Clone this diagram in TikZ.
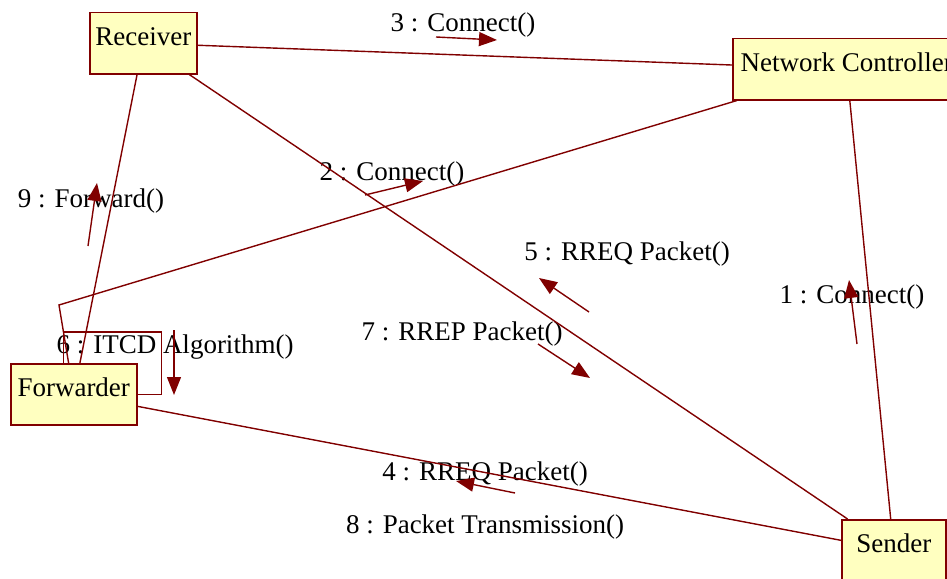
\documentclass[tikz,border=0pt]{standalone}
\usepackage{fontspec}
\setmainfont{Liberation Serif}
\usepackage{xcolor}
\usepackage{tikz}
\usetikzlibrary{arrows.meta,positioning}
\definecolor{linkred}{RGB}{128,0,0}
\definecolor{objfill}{RGB}{255,255,192}
\tikzset{
  object/.style={rectangle,draw=linkred,fill=objfill,line width=1.5pt,
    anchor=north west,inner xsep=0pt,inner ysep=0pt,
    text height=33pt,text depth=28pt,font=\fontsize{27}{32}\selectfont},
  link/.style={linkred,line width=1.4pt},
  message/.style={linkred,line width=1.4pt,-{Triangle[length=18pt,width=14pt]}},
  msglabel/.style={anchor=base,inner sep=0pt,font=\fontsize{27}{32}\selectfont},
  collaboration/.style={x=1pt,y=-1pt}
}
\begin{document}
\begin{tikzpicture}[collaboration]
  \path[use as bounding box,clip] (0,0) rectangle (947,578);

  \node[object,minimum width=107pt] (receiver) at (89,12) {Receiver};
  \node[object,minimum width=228pt] (controller) at (732,38) {Network Controller};
  \node[object,minimum width=126pt] (forwarder) at (10,363) {Forwarder};
  \node[object,minimum width=104pt] (sender) at (841,519) {Sender};

  \node[msglabel] (lbl1) at (852,303) {1 : Connect()};
  \node[msglabel] (lbl2) at (392,180) {2 : Connect()};
  \node[msglabel] (lbl3) at (463,32) {3 : Connect()};
  \node[msglabel] (lbl4) at (485,480) {4 : RREQ Packet()};
  \node[msglabel] (lbl5) at (627,260) {5 : RREQ Packet()};
  \node[msglabel] (lbl6) at (175,353) {6 : ITCD Algorithm()};
  \node[msglabel] (lbl7) at (462,340) {7 : RREP Packet()};
  \node[msglabel] (lbl8) at (485,533) {8 : Packet Transmission()};
  \node[msglabel] (lbl9) at (91,207) {9 : Forward()};

  \coordinate (bend) at (59,305);

  \draw[link]
  (receiver) edge (controller)
  (receiver) edge (sender)
  (receiver) edge (forwarder)
  (controller) edge (sender)
  (forwarder) edge (sender);
  \draw[link] ([xshift=5pt]controller.south west) -- (bend) -- (forwarder);
  % self call on the forwarder
  \draw[link] ([xshift=-10pt]forwarder.north) -- ++(0,-31) -| ([xshift=24pt]forwarder.east) -- (forwarder.east);

  \coordinate (m1a) at (857,344); \coordinate (m1b) at (849,280);
  \coordinate (m2a) at (365,195); \coordinate (m2b) at (423,181);
  \coordinate (m3a) at (436,37);  \coordinate (m3b) at (497,40);
  \coordinate (m4a) at (515,493); \coordinate (m4b) at (456,481);
  \coordinate (m5a) at (589,312); \coordinate (m5b) at (539,278);
  \coordinate (m6a) at (174,330); \coordinate (m6b) at (174,395);
  \coordinate (m7a) at (538,344); \coordinate (m7b) at (590,378);
  \coordinate (m9a) at (88,246);  \coordinate (m9b) at (97,183);

  \draw[message] (m1a) -- (m1b);
  \draw[message] (m2a) -- (m2b);
  \draw[message] (m3a) -- (m3b);
  \draw[message] (m4a) -- (m4b);
  \draw[message] (m5a) -- (m5b);
  \draw[message] (m6a) -- (m6b);
  \draw[message] (m7a) -- (m7b);
  \draw[message] (m9a) -- (m9b);
\end{tikzpicture}
\end{document}
